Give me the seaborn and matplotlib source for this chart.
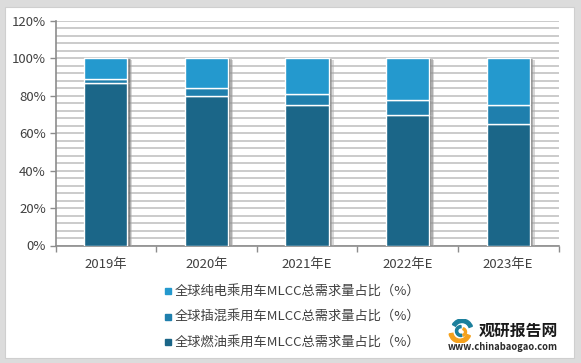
import matplotlib
matplotlib.use("Agg")
import matplotlib.pyplot as plt
import matplotlib.patheffects as pe
from matplotlib.lines import Line2D
from matplotlib.patches import Rectangle, Wedge
import seaborn as sns

years = ["2019年", "2020年", "2021年E", "2022年E", "2023年E"]
fuel = [87, 80, 75, 70, 65]
hybrid = [2, 4, 6, 8, 10]
electric = [11, 16, 19, 22, 25]
legend_labels = [
    "全球纯电乘用车MLCC总需求量占比（%）",
    "全球插混乘用车MLCC总需求量占比（%）",
    "全球燃油乘用车MLCC总需求量占比（%）",
]

FUEL_COLOR = "#1B6688"
HYBRID_COLOR = "#1F7FAD"
ELECTRIC_COLOR = "#2499CE"
TEXT_COLOR = "#404040"
W, H = 581, 363

sns.set_theme(style="white")
plt.rcParams["font.family"] = ["Noto Sans CJK SC", "DejaVu Sans"]

fig = plt.figure(figsize=(W / 100, H / 100), dpi=100, facecolor="#DCDCDC")
# white card inside the grey frame
fig.add_artist(Rectangle((5 / W, 1 - 358 / H), 569 / W, 351 / H, transform=fig.transFigure,
                         facecolor="white", edgecolor="#CFCFCF", lw=0.8, zorder=-5))

ax = fig.add_axes([55.5 / W, 1 - 245.5 / H, 503 / W, 224.5 / H])
ax.patch.set_alpha(0)

# soft shadow on the right of each bar, built from a few offset layers
shadow = [
    pe.SimplePatchShadow(offset=(3.6, -0.8), shadow_rgbFace="#AAAAAA", alpha=0.45),
    pe.SimplePatchShadow(offset=(2.6, -0.6), shadow_rgbFace="#888888", alpha=0.5),
    pe.SimplePatchShadow(offset=(1.6, -0.4), shadow_rgbFace="#666666", alpha=0.6),
    pe.Normal(),
]

bottom = [0] * len(years)
for values, color in [(fuel, FUEL_COLOR), (hybrid, HYBRID_COLOR), (electric, ELECTRIC_COLOR)]:
    sns.barplot(x=years, y=values, bottom=bottom, color=color, saturation=1, width=0.43,
                edgecolor="white", linewidth=1.0, ax=ax, zorder=3)
    bottom = [b + v for b, v in zip(bottom, values)]

for patch in ax.patches:
    patch.set_path_effects(shadow)

ax.set_xlim(-0.5, 4.5)
ax.set_ylim(0, 120)
ax.set_yticks(range(0, 121, 20))
ax.set_yticklabels([f"{v}%" for v in range(0, 121, 20)], fontsize=9.5, color=TEXT_COLOR)
ax.set_yticks(range(0, 121, 4), minor=True)
ax.grid(True, axis="y", which="both", color="#BDBDBD", lw=1.1, zorder=0)
ax.set_axisbelow(True)
ax.set_xticks([-0.5, 0.5, 1.5, 2.5, 3.5, 4.5], minor=True)
ax.tick_params(axis="x", which="major", length=0, labelsize=9.5, labelcolor=TEXT_COLOR, pad=9)
ax.tick_params(axis="x", which="minor", length=4, width=1, color="#8C8C8C", bottom=True)
ax.tick_params(axis="y", which="major", length=4, width=1, color="#8C8C8C", left=True,
               labelsize=9.5, pad=3)
ax.tick_params(axis="y", which="minor", length=0)
ax.set_xlabel("")

for side in ["top", "right"]:
    ax.spines[side].set_visible(False)
for side in ["left", "bottom"]:
    ax.spines[side].set_color("#8C8C8C")
    ax.spines[side].set_linewidth(1.2)

handles = [Line2D([], [], ls="", marker="s", ms=4.8, color=c)
           for c in [ELECTRIC_COLOR, HYBRID_COLOR, FUEL_COLOR]]
fig.legend(handles, legend_labels, loc="upper left", bbox_to_anchor=(162 / W, 1 - 286 / H),
           frameon=False, fontsize=9.5, labelcolor=TEXT_COLOR, labelspacing=0.92,
           handletextpad=0.08, handlelength=0.9, borderpad=0, borderaxespad=0)

# watermark logo
logo = fig.add_axes([446 / W, 1 - 343 / H, 30 / W, 24 / H])
logo.set_xlim(-15, 15)
logo.set_ylim(-12, 12)
logo.axis("off")
logo.add_patch(Wedge((1, 1), 11, 20, 150, width=3.5, color="#1B7F9C"))
logo.add_patch(Wedge((-1, -1), 11, 190, 340, width=3.8, color="#F5A11C"))
logo.add_patch(Wedge((0, 0), 5.5, 90, 280, width=2.2, color="#1B7F9C"))
logo.add_patch(Wedge((1, -1), 4.5, 290, 70, width=2, color="#F5A11C"))

fig.text(479 / W, 1 - 331 / H, "观研报告网", fontsize=11.4, fontweight="bold", color="#1A1A1A",
         va="center", ha="left")
fig.text(448 / W, 1 - 347 / H, "www.chinabaogao.com", fontsize=6.75, fontweight="bold",
         color="#2A2A2A", va="center", ha="left")

fig.savefig("out.png", dpi=100, facecolor=fig.get_facecolor())
